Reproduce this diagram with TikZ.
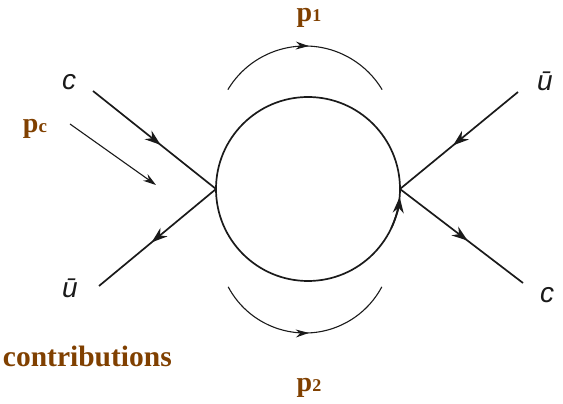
\documentclass[tikz,border=0pt]{standalone}
\usepackage{fontspec}
\setmainfont{Liberation Serif}
\setsansfont{Liberation Sans}
\usepackage{xcolor}
\usetikzlibrary{arrows.meta, decorations.markings}
\definecolor{labelbrown}{HTML}{804000}
\definecolor{inkdark}{HTML}{1A1A1A}

\begin{document}
\begin{tikzpicture}[x=1pt, y=1pt,
            quark/.style={draw=inkdark, line width=1.7pt, postaction={decorate},
                decoration={markings, mark=at position 0.55 with {\arrow{Stealth[length=16pt, width=11pt]}}}},
            flow/.style={draw=inkdark, line width=1.1pt},
            momlbl/.style={text=labelbrown, font=\fontsize{28}{30}\selectfont\bfseries, inner sep=0pt},
            flavlbl/.style={text=inkdark, font=\fontsize{28}{30}\selectfont\sffamily\itshape, inner sep=0pt}]
            \useasboundingbox (0,0) rectangle (563,404);
            % loop and vertices
            \coordinate (O) at (308,215);
            \coordinate (VL) at (216,215);
            \coordinate (VR) at (400,215);
            \draw[draw=inkdark, line width=1.7pt] (O) circle (92);
            \draw[draw=inkdark, line width=1.7pt, -{Stealth[length=16pt, width=11pt]}] (O) ++(-25:92) arc (-25:-5:92);
            % external legs
            \coordinate (CIn) at (93,313);
            \coordinate (UOut) at (99,118);
            \coordinate (UIn) at (518,312);
            \coordinate (COut) at (523,121);
            \foreach \i/\j in {CIn/VL,VL/UOut,UIn/VR,VR/COut} {
                \draw[quark] (\i)--(\j);
            }
            % momentum arrows
            \coordinate (PcA) at (70,280);
            \coordinate (PcB) at (156,219);
            \draw[flow, -{Stealth[length=13pt, width=8pt]}] (PcA)--(PcB);
            \draw[flow, postaction={decorate},
                decoration={markings, mark=at position 0.52 with {\arrow{Stealth[length=13pt, width=8pt]}}}]
                (305,268) ++(149:90) arc (149:31:90);
            \draw[flow, postaction={decorate},
                decoration={markings, mark=at position 0.52 with {\arrow{Stealth[length=13pt, width=8pt]}}}]
                (305,158) ++(208:87) arc (208:332:87);
            % labels
            \node[momlbl] (P1) at (309,386) {p{\fontsize{18}{18}\selectfont 1}};
            \node[momlbl] (P2) at (309,16) {p{\fontsize{18}{18}\selectfont 2}};
            \node[momlbl] (Pc) at (35,275) {p{\fontsize{19}{19}\selectfont c}};
            \node[momlbl, font=\fontsize{29.5}{32}\selectfont\bfseries, anchor=base east] (Contrib) at (172,37) {contributions};
            \node[flavlbl] (CTop) at (69,322) {c};
            \node[flavlbl] (UBot) at (70,116) {ū};
            \node[flavlbl] (UTop) at (545,323) {ū};
            \node[flavlbl] (CBot) at (547,109) {c};
\end{tikzpicture}
\end{document}
